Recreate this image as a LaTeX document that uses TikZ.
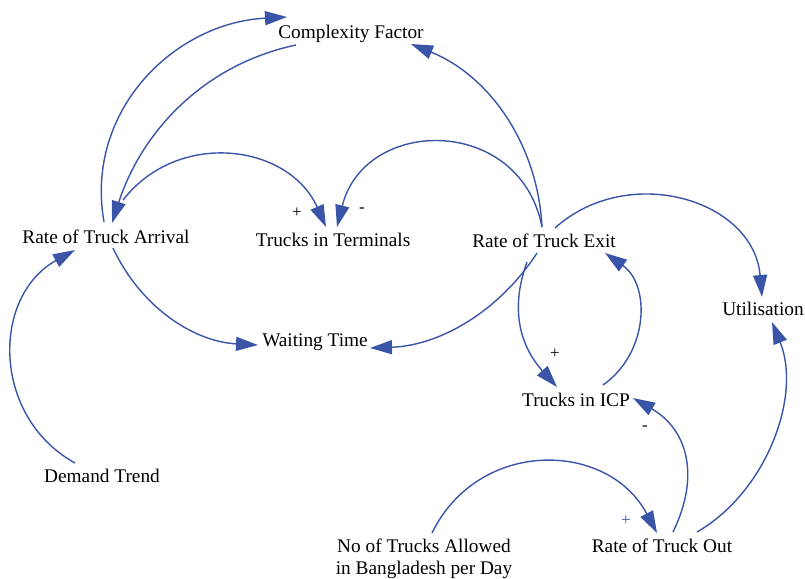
\documentclass[tikz,border=0pt]{standalone}
\usepackage{fontspec}
\setmainfont{Liberation Serif}
\usetikzlibrary{arrows.meta}
\definecolor{linkblue}{RGB}{58,84,168}
\tikzset{
  var/.style={inner sep=0pt, anchor=base, font=\fontsize{19.3}{22}\selectfont, align=center},
  link/.style={draw=linkblue, line width=1.4pt, -{Triangle[length=22pt,width=14pt]}, fill=none},
  pol/.style={inner sep=0pt, font=\fontsize{17}{20}\selectfont},
}
\begin{document}
\begin{tikzpicture}[x=1pt,y=1pt]
\useasboundingbox (0,0) rectangle (805,-578);
% nodes (base points)
\node[var] (cf) at (351,-38) {Complexity Factor};
\node[var] (rta) at (106,-243) {Rate of Truck Arrival};
\node[var] (tit) at (333,-246) {Trucks in Terminals};
\node[var] (rte) at (544,-247) {Rate of Truck Exit};
\node[var] (util) at (763,-315) {Utilisation};
\node[var] (wt) at (315,-346) {Waiting Time};
\node[var] (icp) at (576,-406) {Trucks in ICP};
\node[var] (dt) at (102,-482) {Demand Trend};
\node[var] (no) at (424,-574) {No of Trucks Allowed\\in Bangladesh per Day};
\node[var] (rto) at (662,-552) {Rate of Truck Out};
% polarity labels
\node[pol] (p1) at (297,-213) {+};
\node[pol] (p2) at (362,-210) {-};
\node[pol] (p3) at (555,-354) {+};
\node[pol] (p4) at (645,-428) {-};
\node[pol, text=linkblue] (p5) at (626,-521) {+};
% links
\draw[link] ([shift={(-2,21)}]rta.base) to[out=100,in=183,looseness=1.05] ([shift={(-64,21)}]cf.base);
\draw[link] ([shift={(-55,-7)}]cf.base) to[out=192,in=72,looseness=0.95] ([shift={(6,20)}]rta.base);
\draw[link] ([shift={(17,43)}]rta.base) to[out=52,in=114,looseness=1.13] ([shift={(-7,19)}]tit.base);
\draw[link] ([shift={(-2,20)}]rte.base) to[out=101,in=76,looseness=1.43] ([shift={(4,19)}]tit.base);
\draw[link] ([shift={(-2,20)}]rte.base) to[out=93,in=-22,looseness=0.95] ([shift={(60,-6)}]cf.base);
\draw[link] ([shift={(7,-5)}]rta.base) to[out=-65,in=177,looseness=0.95] ([shift={(-57,1)}]wt.base);
\draw[link] ([shift={(-7,-6)}]rte.base) to[out=237,in=2,looseness=0.93] ([shift={(55,-2)}]wt.base);
\draw[link] ([shift={(11,19)}]rte.base) to[out=42,in=95,looseness=1.15] ([shift={(-1,18)}]util.base);
\draw[link] ([shift={(-17,-15)}]rte.base) to[out=-110,in=132,looseness=1.05] ([shift={(-19,19)}]icp.base);
\draw[link] ([shift={(27,21)}]icp.base) to[out=35,in=-35,looseness=1.08] ([shift={(61,-6)}]rte.base);
\draw[link] ([shift={(11,20)}]rto.base) to[out=64,in=-30,looseness=1.15] ([shift={(57,8)}]icp.base);
\draw[link] ([shift={(35,20)}]rto.base) to[out=30,in=-68,looseness=0.92] ([shift={(9,-7)}]util.base);
\draw[link] ([shift={(8,41)}]no.base) to[out=64,in=118,looseness=1.2] ([shift={(-5,19)}]rto.base);
\draw[link] ([shift={(-27,19)}]dt.base) to[out=151,in=-151,looseness=1.15] ([shift={(-31,-7)}]rta.base);
\end{tikzpicture}
\end{document}
